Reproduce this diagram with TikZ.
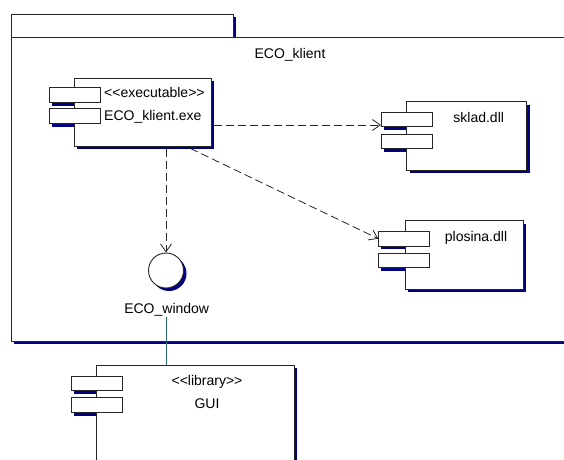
\documentclass[tikz,border=0pt]{standalone}
\usepackage{fontspec}
\setmainfont{Liberation Sans}
\usetikzlibrary{arrows.meta,positioning,shadows,backgrounds}
\definecolor{shadowblue}{RGB}{0,0,128}
\definecolor{linkteal}{RGB}{40,110,110}
\tikzset{
  pkg/.style={rectangle, draw=black!85, fill=white, line width=0.9pt, inner sep=0pt, anchor=north west, drop shadow={shadow xshift=3pt, shadow yshift=-3pt, fill=shadowblue, opacity=1}},
  comp/.style={rectangle, draw=black!85, fill=white, line width=0.9pt, inner sep=0pt, drop shadow={shadow xshift=3pt, shadow yshift=-3pt, fill=shadowblue, opacity=1}},
  port/.style={rectangle, draw=black!85, fill=white, line width=0.9pt, inner sep=0pt, minimum width=51pt, minimum height=14.5pt},
  iface/.style={circle, draw=black!85, fill=white, line width=0.9pt, inner sep=0pt, minimum size=35pt, drop shadow={shadow xshift=3pt, shadow yshift=-3pt, fill=shadowblue, opacity=1}},
  lbl/.style={font=\fontsize{14}{16}\selectfont, inner sep=0pt, anchor=base},
  dep/.style={-{Straight Barb[length=8pt,width=11pt]}, line width=0.8pt, draw=black!85, dash pattern=on 8pt off 4pt}, % dependency
  link/.style={line width=0.8pt, draw=linkteal} % realization
}
\begin{document}
\begin{tikzpicture}[x=1pt, y=-1pt]
  \useasboundingbox (0,0) rectangle (564,459);

  % Package ECO_klient
  \begin{scope}[on background layer]
    \node[pkg, minimum width=222pt, minimum height=23pt] (tab) at (11,14) {};
    \node[pkg, minimum width=557pt, minimum height=304pt] (body) at (11,37) {};
  \end{scope}
  \node[lbl] (pkglbl) at (290,58.5) {ECO\_klient};

  % Components
  \node[comp, minimum width=137pt, minimum height=68pt] (exe) at (142.5,112) {};
  \node[comp, minimum width=120pt, minimum height=68.3pt] (sklad) at (466.7,135.8) {};
  \node[comp, minimum width=118.3pt, minimum height=68.6pt] (plosina) at (464.2,255) {};
  \node[comp, minimum width=197.6pt, minimum height=100pt] (gui) at (195.5,415) {};

  % Ports
  \node[port] (exe1) at (74.5,95) {};
  \node[port] (exe2) at (74.5,116) {};
  \node[port] (sk1) at (407,119.5) {};
  \node[port] (sk2) at (407,141.2) {};
  \node[port] (pl1) at (404.3,238.7) {};
  \node[port] (pl2) at (404.3,260.3) {};
  \node[port] (gui1) at (97,383.3) {};
  \node[port] (gui2) at (97,405) {};
  \begin{scope}[on background layer]
    \foreach \p in {exe1,exe2,sk1,sk2,pl1,pl2,gui1,gui2}
      \fill[shadowblue] ([xshift=3pt,yshift=-3pt]\p.south west) rectangle ([xshift=3pt,yshift=-3pt]\p.north east);
  \end{scope}

  % Labels
  \node[lbl, anchor=base west] (exestereo) at (104,97.5) {<{}<executable>{}>};
  \node[lbl, anchor=base west] (exename) at (104,120) {ECO\_klient.exe};
  \node[lbl] (sklbl) at (478.7,122) {sklad.dll};
  \node[lbl] (pllbl) at (476,241) {plosina.dll};
  \node[lbl] (guistereo) at (207,385) {<{}<library>{}>};
  \node[lbl] (guiname) at (207,408) {GUI};

  % Interface
  \node[iface] (win) at (166,270.5) {};
  \node[lbl] (winlbl) at (166.7,313) {ECO\_window};

  % Dependencies
  \coordinate (exeout) at ([xshift=3pt,yshift=-13pt]exe.east);
  \coordinate (exedown) at ([yshift=-3pt]win.north |- exe.south);
  \draw[dep] (exeout) -- (exeout -| sk1.west);
  \draw[dep] ([xshift=-21pt,yshift=-2pt]exe.south east) -- (pl1.west);
  \draw[dep] (exedown) -- (win.north);
  \draw[link] ([yshift=-1pt]winlbl.south) -- (winlbl.south |- gui.north);
\end{tikzpicture}
\end{document}
